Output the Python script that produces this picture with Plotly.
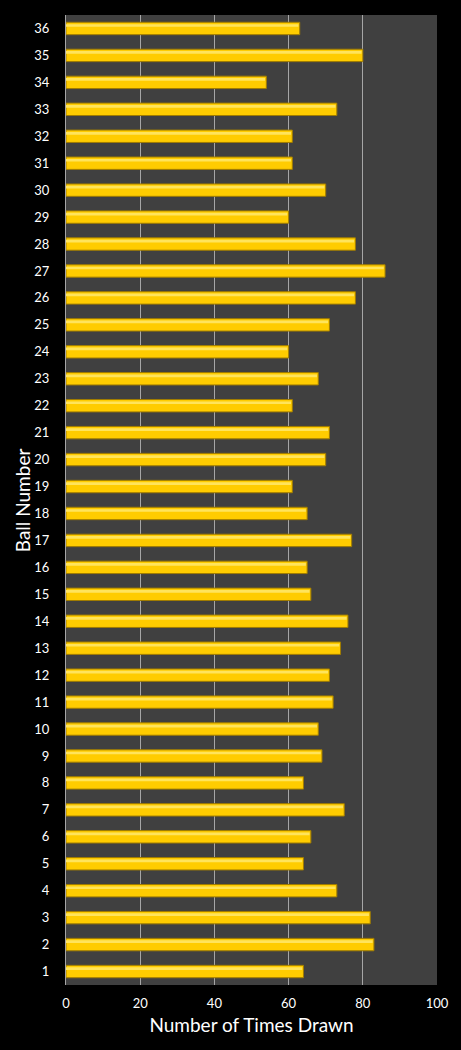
"""
Ball number draw frequency
"""

import plotly.graph_objects as go

# ball numbers and how many times each one was drawn
balls = [str(n) for n in range(1, 37)]
times_drawn = [
    64, 83, 82, 73, 64, 66, 75, 64, 69, 68,
    72, 71, 74, 76, 66, 65, 77, 65, 61, 70,
    71, 61, 68, 60, 71, 78, 86, 78, 60, 70,
    61, 61, 73, 54, 80, 63,
]
x_ticks = [0, 20, 40, 60, 80, 100]

FONT = 'Lato'

fig = go.Figure()
# main gold bar
fig.add_trace(go.Bar(
    x=times_drawn,
    y=balls,
    orientation='h',
    width=0.46,
    offset=-0.23,
    marker=dict(color='#FFCC00', line=dict(color='#A07C00', width=1)),
    hoverinfo='x+y',
))
# lighter band on the top of each bar, gives the bevel look
fig.add_trace(go.Bar(
    x=[v - 0.35 for v in times_drawn],
    y=balls,
    orientation='h',
    width=0.1,
    offset=0.06,
    marker=dict(color='#FFE45C', line=dict(width=0)),
    hoverinfo='skip',
))

fig.update_layout(
    width=461,
    height=1050,
    margin=dict(l=66, r=24, t=15, b=65),
    paper_bgcolor='black',
    plot_bgcolor='#404040',
    barmode='overlay',
    showlegend=False,
    font=dict(family=FONT, color='white', size=13),
)
fig.update_xaxes(
    range=[0, 100],
    tickvals=x_ticks,
    showgrid=True,
    gridcolor='#A6A6A6',
    gridwidth=1,
    zeroline=False,
    showline=False,
    ticks='',
    ticklabelstandoff=9,
    title=dict(text='Number of Times Drawn', font=dict(size=19, family=FONT), standoff=8),
)
fig.update_yaxes(
    type='category',
    categoryorder='array',
    categoryarray=balls,
    showgrid=False,
    zeroline=False,
    showline=True,
    linecolor='#A6A6A6',
    linewidth=1,
    ticks='',
    ticklabelstandoff=13,
)
# y title placed by hand, a bit closer to the tick labels
fig.add_annotation(
    text='Ball Number',
    textangle=-90,
    xref='paper', yref='paper',
    x=-0.118, y=0.5,
    xanchor='center', yanchor='middle',
    showarrow=False,
    font=dict(size=19, family=FONT, color='white'),
)

fig.write_html(
    "out.html",
    config={'displayModeBar': False},
    post_script="document.body.style.margin='0';document.body.style.background='black';",
)
